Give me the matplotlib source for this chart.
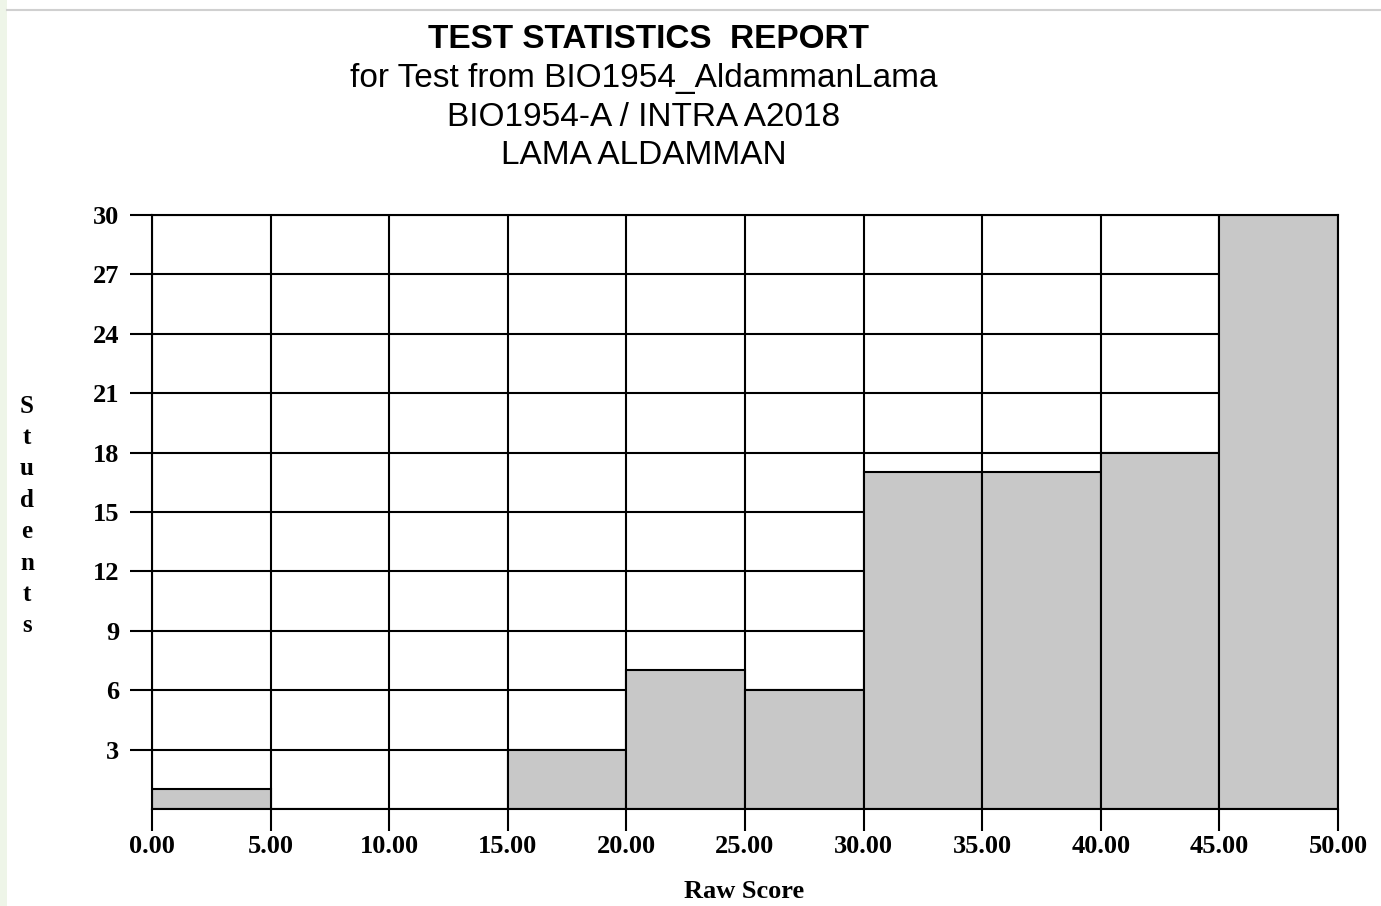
import matplotlib
matplotlib.use("Agg")
import matplotlib.pyplot as plt
from matplotlib.patches import Rectangle
from matplotlib.lines import Line2D

bin_edges = [0, 5, 10, 15, 20, 25, 30, 35, 40, 45, 50]
counts = [1, 0, 0, 3, 7, 6, 17, 17, 18, 30]
y_ticks = [3, 6, 9, 12, 15, 18, 21, 24, 27, 30]
x_tick_labels = [f"{v:.2f}" for v in bin_edges]
title_lines = ["for Test from BIO1954_AldammanLama", "BIO1954-A / INTRA A2018", "LAMA ALDAMMAN"]
main_title = "TEST STATISTICS  REPORT"
ylabel = "Students"
xlabel = "Raw Score"

W, H = 1381, 906
fig = plt.figure(figsize=(W / 100, H / 100), dpi=100)
fig.patch.set_facecolor("white")

# page decoration: light green strip on left and grey rule at top
fig.patches.append(Rectangle((0, 0), 7 / W, 1, transform=fig.transFigure,
                             facecolor="#eef5e8", edgecolor="none", zorder=0))
fig.lines.append(Line2D([7 / W, 1], [1 - 10 / H, 1 - 10 / H], transform=fig.transFigure,
                        color="#d0d0d0", lw=1.5))

ax = fig.add_axes([152 / W, 97 / H, (1338 - 152) / W, (809 - 215) / H])

widths = [bin_edges[i + 1] - bin_edges[i] for i in range(len(counts))]
ax.bar(bin_edges[:-1], counts, width=widths, align="edge",
       color="#c8c8c8", edgecolor="black", linewidth=1.5, zorder=2)

ax.set_xlim(0, 50)
ax.set_ylim(0, 30)
ax.set_xticks(bin_edges)
ax.set_xticklabels(x_tick_labels)
ax.set_yticks(y_ticks)
ax.set_yticklabels([str(v) for v in y_ticks])
ax.set_axisbelow(True)
ax.grid(True, color="black", linewidth=1.5)

for s in ax.spines.values():
    s.set_linewidth(1.5)
    s.set_color("black")

tickfont = dict(family="Liberation Serif", weight="bold", size=19)
ax.tick_params(axis="both", direction="out", length=15.5, width=1.5, color="black")
ax.tick_params(axis="y", pad=8)
ax.tick_params(axis="x", pad=3)
for lab in ax.get_xticklabels() + ax.get_yticklabels():
    lab.set_fontfamily("Liberation Serif")
    lab.set_fontweight("bold")
    lab.set_fontsize(19)

# titles
fig.text(648 / W, 1 - 40 / H, main_title, ha="center", va="center",
         family="Liberation Sans", weight="bold", size=24)
for i, line in enumerate(title_lines):
    fig.text(644 / W, 1 - (78.5 + 38.5 * i) / H, line, ha="center", va="center",
             family="Liberation Sans", size=24)

# x label
fig.text(744 / W, 1 - 892 / H, xlabel, ha="center", va="center", **tickfont)

# stacked y label
for i, ch in enumerate(ylabel):
    fig.text(27 / W, 1 - (406 + 31.4 * i) / H, ch, ha="center", va="center",
             family="Liberation Serif", weight="bold", size=18)

fig.savefig("out.png", dpi=100, facecolor=fig.get_facecolor())
